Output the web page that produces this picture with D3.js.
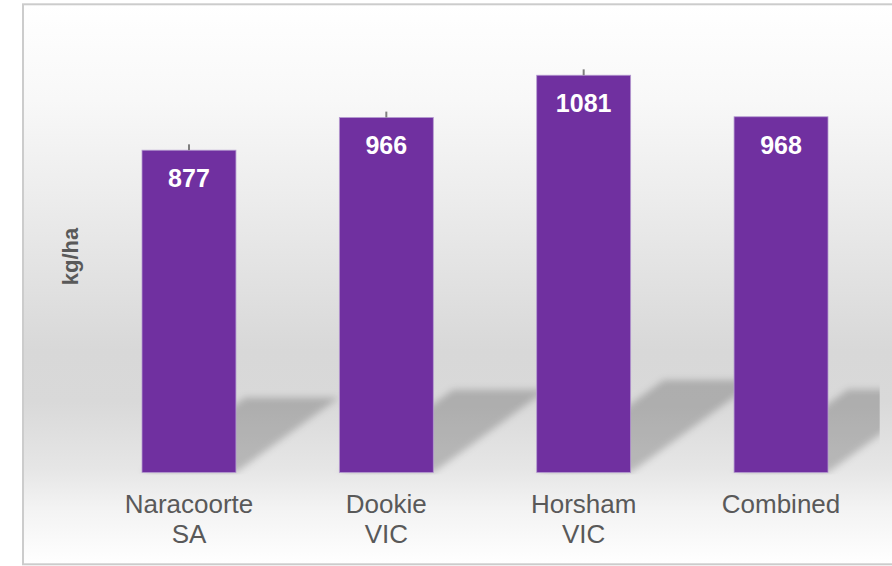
<!DOCTYPE html>
<html>
<head>
<meta charset="utf-8">
<script src="https://cdn.jsdelivr.net/npm/d3@7/dist/d3.min.js"></script>
<style>
  html, body { margin: 0; padding: 0; background: #ffffff; }
  svg { display: block; }
</style>
</head>
<body>
<svg id="chart" width="892" height="566"></svg>
<script>
// ---- data ----
const categories = [["Naracoorte", "SA"], ["Dookie", "VIC"], ["Horsham", "VIC"], ["Combined"]];
const values = [877, 966, 1081, 968];
const errors = [16, 16, 16, 0];
const yDomain = [0, 1200];
const yAxisLabel = "kg/ha";

// ---- layout ----
const W = 892, H = 566;
const plot = { left: 90.3, right: 879.7, top: 31.5, bottom: 472.5 };
const svg = d3.select("#chart");
const defs = svg.append("defs");

// background gradient
const grad = defs.append("linearGradient").attr("id", "bg")
  .attr("x1", 0).attr("y1", 0).attr("x2", 0).attr("y2", 1);
[[0, "#ffffff"], [0.17, "#f8f8f8"], [0.35, "#ececec"], [0.62, "#d8d8d8"],
 [0.71, "#d9d9d9"], [0.83, "#e6e6e6"], [0.90, "#f3f3f3"], [1, "#ffffff"]]
  .forEach(([o, c]) => grad.append("stop").attr("offset", o).attr("stop-color", c));

defs.append("filter").attr("id", "blur")
  .attr("x", "-20%").attr("y", "-20%").attr("width", "140%").attr("height", "140%")
  .append("feGaussianBlur").attr("stdDeviation", 3.5);

defs.append("clipPath").attr("id", "plotClip").append("rect")
  .attr("x", plot.left).attr("y", 0)
  .attr("width", plot.right - plot.left).attr("height", plot.bottom + 2);

svg.append("rect")
  .attr("x", 23).attr("y", 4.3).attr("width", 880).attr("height", 560)
  .attr("fill", "url(#bg)").attr("stroke", "#cccccc").attr("stroke-width", 2);

// ---- scales ----
const x = d3.scaleBand()
  .domain(categories.map(d => d.join(" ")))
  .range([plot.left, plot.right])
  .paddingInner(0.524).paddingOuter(0.262);
const y = d3.scaleLinear().domain(yDomain).range([plot.bottom, plot.top]);

const data = categories.map((c, i) => ({ key: c.join(" "), lines: c, v: values[i], e: errors[i] }));

// ---- shadows ----
const shadowG = svg.append("g").attr("clip-path", "url(#plotClip)")
  .append("g").attr("filter", "url(#blur)");
shadowG.selectAll("polygon").data(data).join("polygon")
  .attr("points", d => {
    const x0 = x(d.key), x1 = x0 + x.bandwidth();
    const base = y(0), h = y(0) - y(d.v);
    const dx = 0.32 * h, dy = 0.233 * h;
    return [[x0, base], [x1, base], [x1 + dx, base - dy], [x0 + dx, base - dy]]
      .map(p => p.join(",")).join(" ");
  })
  .attr("fill", "#000000").attr("fill-opacity", 0.2);

// ---- bars ----
svg.append("g").selectAll("rect").data(data).join("rect")
  .attr("x", d => x(d.key))
  .attr("y", d => y(d.v))
  .attr("width", x.bandwidth())
  .attr("height", d => y(0) - y(d.v))
  .attr("fill", "#7030a0")
  .attr("stroke", "#b59bd0").attr("stroke-width", 0.8);

// ---- error bars (plus only) ----
svg.append("g").selectAll("line").data(data.filter(d => d.e > 0)).join("line")
  .attr("x1", d => x(d.key) + x.bandwidth() / 2)
  .attr("x2", d => x(d.key) + x.bandwidth() / 2)
  .attr("y1", d => y(d.v))
  .attr("y2", d => y(d.v + d.e))
  .attr("stroke", "#7f7f7f").attr("stroke-width", 2);

// ---- value labels ----
svg.append("g").selectAll("text").data(data).join("text")
  .attr("x", d => x(d.key) + x.bandwidth() / 2)
  .attr("y", d => y(d.v) + 37)
  .attr("text-anchor", "middle")
  .attr("font-family", "'Liberation Sans', Arial, sans-serif")
  .attr("font-weight", "bold").attr("font-size", 25)
  .attr("fill", "#ffffff")
  .text(d => d.v);

// ---- category labels ----
const cat = svg.append("g").selectAll("text").data(data).join("text")
  .attr("x", d => x(d.key) + x.bandwidth() / 2)
  .attr("y", 513)
  .attr("text-anchor", "middle")
  .attr("font-family", "'Liberation Sans', Arial, sans-serif")
  .attr("font-size", 26).attr("fill", "#595959");
cat.selectAll("tspan").data(d => d.lines.map(l => ({ l, cx: x(d.key) + x.bandwidth() / 2 })))
  .join("tspan")
  .attr("x", t => t.cx)
  .attr("dy", (t, i) => i === 0 ? 0 : 30)
  .text(t => t.l);

// ---- y axis title ----
svg.append("text")
  .attr("transform", "translate(78,256.5) rotate(-90)")
  .attr("text-anchor", "middle")
  .attr("font-family", "'Liberation Sans', Arial, sans-serif")
  .attr("font-weight", "bold").attr("font-size", 22)
  .attr("fill", "#595959")
  .text(yAxisLabel);
</script>
</body>
</html>
